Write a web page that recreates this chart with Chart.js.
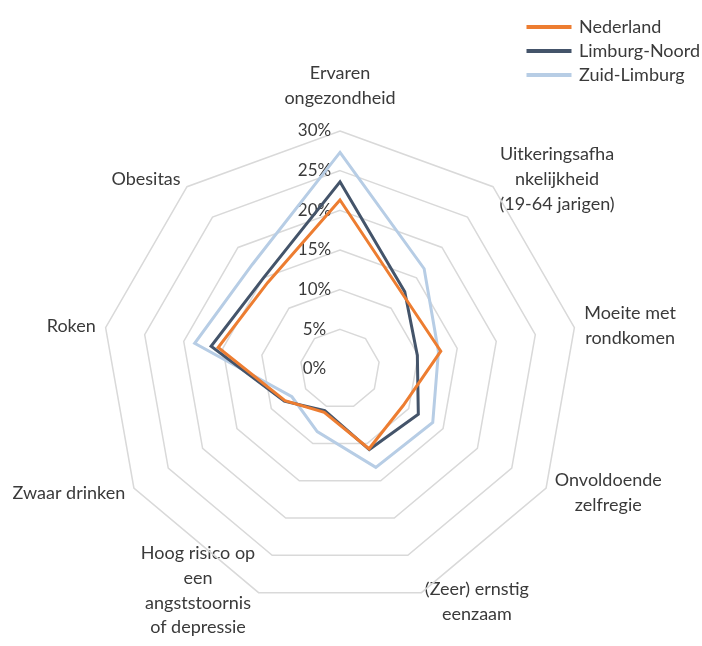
<!DOCTYPE html>
<html>
<head>
<meta charset="utf-8">
<script src="https://cdn.jsdelivr.net/npm/chart.js"></script>
<style>
  body { margin: 0; background: #fff; }
  #wrap { width: 702px; height: 646px; }
</style>
</head>
<body>
<div id="wrap"><canvas id="radar"></canvas></div>
<script>
// categories, clockwise from the top
var categories = [
  ["Ervaren", "ongezondheid"],
  ["Uitkeringsafha", "nkelijkheid", "(19-64 jarigen)"],
  ["Moeite met", "rondkomen"],
  ["Onvoldoende", "zelfregie"],
  ["(Zeer) ernstig", "eenzaam"],
  ["Hoog risico op", "een", "angststoornis", "of depressie"],
  ["Zwaar drinken"],
  ["Roken"],
  ["Obesitas"]
];

// percentages
var nederland    = [21.3, 12.3, 12.9,  9.2, 10.7, 5.8, 8.0, 15.6, 14.2];
var limburgNoord = [23.6, 12.7,  9.9, 11.4, 10.8, 5.6, 8.1, 16.5, 15.0];
var zuidLimburg  = [27.3, 16.5, 12.6, 13.5, 13.2, 8.4, 7.0, 18.6, 17.2];

var scaleMax = 30;
var scaleStep = 5;

// excel-like placement of the web and its labels
var CX = 340, CY = 369, RADIUS = 238, LABEL_PAD = 10;

var excelLayout = {
  id: "excelLayout",
  afterLayout: function (chart) {
    var s = chart.scales.r;
    var box = { left: s.left, top: s.top, right: s.right, bottom: s.bottom };
    Object.assign(s, { left: -2000, top: -2000, right: 4000, bottom: 4000 });
    s.xCenter = CX;
    s.yCenter = CY;
    s.drawingArea = RADIUS;
    s.fit();
    Object.assign(s, box);

    // side labels: centred vertically on their spoke, lines centred,
    // kept inside the canvas like excel does
    s._pointLabelItems.forEach(function (item, i) {
      if (item.textAlign === "center") return;
      var w = item.right - item.left, h = item.bottom - item.top;
      var p = s.getPointPosition(i, RADIUS + LABEL_PAD);
      var left = item.textAlign === "left" ? p.x : p.x - w;
      var top = Math.min(p.y - h / 2, chart.height - 6 - h);
      Object.assign(item, {
        x: left + w / 2, y: top, textAlign: "center",
        left: left, right: left + w, top: top, bottom: top + h
      });
    });

    var lg = chart.legend;
    lg.left = 522;
    lg.top = 12;
    lg.right = chart.width;
  }
};

var ctx = document.getElementById("radar").getContext("2d");
var radar = new Chart(ctx, {
  type: "radar",
  data: {
    labels: categories,
    datasets: [
      {
        label: "Nederland",
        data: nederland,
        borderColor: "#ED7D31",
        backgroundColor: "#ED7D31",
        borderWidth: 3,
        fill: false,
        pointRadius: 0,
      },
      {
        label: "Limburg-Noord",
        data: limburgNoord,
        borderColor: "#44546A",
        backgroundColor: "#44546A",
        borderWidth: 3,
        fill: false,
        pointRadius: 0,
      },
      {
        label: "Zuid-Limburg",
        data: zuidLimburg,
        borderColor: "#B7CDE5",
        backgroundColor: "#B7CDE5",
        borderWidth: 3,
        fill: false,
        pointRadius: 0,
      },
    ],
  },
  options: {
    responsive: true,
    maintainAspectRatio: false,
    animation: false,
    layout: { padding: 0 },
    scales: {
      r: {
        min: -1e-9,
        max: scaleMax,
        angleLines: { display: false },
        grid: { color: "#D9D9D9", lineWidth: 1.5 },
        ticks: {
          stepSize: scaleStep,
          showLabelBackdrop: false,
          color: "#3A3A3A",
          font: { family: "Lato", size: 17 },
          callback: function (v) {
            return Math.round(v) + "%" + "\u2003\u2003\u2003\u2003";
          },
        },
        pointLabels: {
          padding: LABEL_PAD,
          color: "#3A3A3A",
          font: { family: "Lato", size: 18, lineHeight: 1.38 },
        },
      },
    },
    plugins: {
      tooltip: { enabled: false },
      legend: {
        position: "chartArea",
        align: "start",
        labels: {
          boxWidth: 42,
          boxHeight: 1,
          padding: 6,
          color: "#3A3A3A",
          font: { family: "Lato", size: 18 },
        },
      },
    },
  },
  plugins: [excelLayout],
});
</script>
</body>
</html>
